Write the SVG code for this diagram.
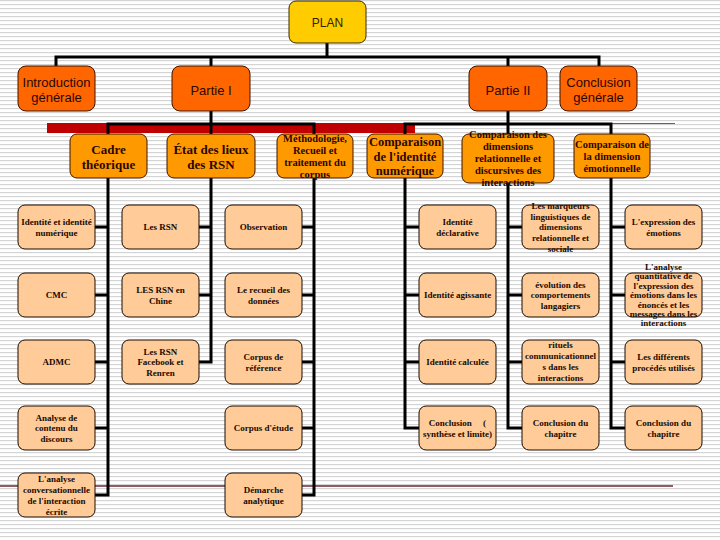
<svg xmlns="http://www.w3.org/2000/svg" width="720" height="540" viewBox="0 0 720 540">
<defs>
<pattern id="stripes" x="0" y="0" width="720" height="4" patternUnits="userSpaceOnUse">
<rect x="0" y="0" width="720" height="1.2" fill="#d4d4d4"/>
</pattern>
<style>
.l0{fill:#FFCC00;stroke:#3d2a00;stroke-width:1}
.l1{fill:#FF6600;stroke:#3d1400;stroke-width:1}
.l2{fill:#FF9900;stroke:#3d1400;stroke-width:1}
.l3{fill:#FFCC99;stroke:#1a0a00;stroke-width:1}
.t0{font-family:"Liberation Sans",Arial,sans-serif;font-size:12px;fill:#332200;text-anchor:middle}
.t1{font-family:"Liberation Sans",Arial,sans-serif;font-size:13px;fill:#2a0800;text-anchor:middle}
.t2{font-family:"Liberation Serif","Times New Roman",serif;font-weight:bold;fill:#2a0800;text-anchor:middle}
.t3{font-family:"Liberation Serif","Times New Roman",serif;font-weight:bold;font-size:9px;fill:#1a0a00;text-anchor:middle}
.c{fill:none;stroke:#000;stroke-width:3;stroke-linejoin:miter;stroke-linecap:square}
</style>
</defs>
<rect x="0" y="0" width="720" height="540" fill="#ffffff"/>
<rect x="0" y="0" width="720" height="540" fill="url(#stripes)"/>
<g id="decor">
<rect x="47" y="123" width="368" height="10" fill="#C00000"/>
<line x1="415" y1="123.5" x2="675" y2="123.5" stroke="#cc3333" stroke-width="1"/>
<line x1="0" y1="486" x2="673" y2="486" stroke="#6e2436" stroke-width="1.5"/>
</g>
<g id="connectors">
<path class="c" d="M327,44 V57 M56,66 V57 H599 V66 M211,57 V66 M508,57 V66"/>
<path class="c" d="M211,111 V124 M108,134 V124 H314 V134 M211,124 V134"/>
<path class="c" d="M508,111 V124 M405,134 V124 H611 V134 M508,124 V134"/>
<path class="c" d="M108,178 V495 H95 M95,227 H108 M95,295 H108 M95,362 H108 M95,428 H108"/>
<path class="c" d="M211,178 V362 H198 M198,227 H211 M198,295 H211"/>
<path class="c" d="M314,178 V495 H301 M301,227 H314 M301,295 H314 M301,362 H314 M301,428 H314"/>
<path class="c" d="M405,178 V428 H419 M405,227 H419 M405,295 H419 M405,362 H419"/>
<path class="c" d="M508,183 V428 H522 M508,227 H522 M508,295 H522 M508,362 H522"/>
<path class="c" d="M611,178 V428 H625 M611,227 H625 M611,295 H625 M611,362 H625"/>
</g>
<g id="plan"><rect class="l0" x="289" y="1" width="77" height="42" rx="7"/><text class="t0" x="327.5" y="27">PLAN</text></g>
<g id="intro"><rect class="l1" x="18" y="66" width="77" height="45" rx="8"/><text class="t1" x="56.5" y="86.6">Introduction<tspan x="56.5" dy="15">générale</tspan></text></g>
<g id="partie1"><rect class="l1" x="172" y="66" width="78" height="45" rx="8"/><text class="t1" x="211" y="94.6">Partie I</text></g>
<g id="partie2"><rect class="l1" x="469" y="66" width="78" height="45" rx="8"/><text class="t1" x="508" y="94.6">Partie II</text></g>
<g id="conclusion"><rect class="l1" x="560" y="66" width="77" height="45" rx="8"/><text class="t1" x="598.5" y="86.6">Conclusion<tspan x="598.5" dy="15">générale</tspan></text></g>
<g id="cadre"><rect class="l2" x="70" y="134" width="77" height="44" rx="7"/><text class="t2" font-size="13" x="108.5" y="153.5">Cadre<tspan x="108.5" dy="15">théorique</tspan></text></g>
<g id="etat"><rect class="l2" x="167" y="134" width="88" height="44" rx="7"/><text class="t2" font-size="13" x="211" y="153.5">État des lieux<tspan x="211" dy="15">des RSN</tspan></text></g>
<g id="methodo"><rect class="l2" x="277" y="134" width="76" height="44" rx="7"/><text class="t2" font-size="10.5" x="315" y="141.7">Méthodologie,<tspan x="315" dy="12">Recueil et</tspan><tspan x="315" dy="12">traitement du</tspan><tspan x="315" dy="12">corpus</tspan></text></g>
<g id="comp-id"><rect class="l2" x="367" y="134" width="76" height="44" rx="7"/><text class="t2" font-size="12.5" x="405" y="146.4">Comparaison<tspan x="405" dy="14.5">de l'identité</tspan><tspan x="405" dy="14.5">numérique</tspan></text></g>
<g id="comp-dim"><rect class="l2" x="462" y="134" width="92" height="49" rx="7"/><text class="t2" font-size="10.5" x="508" y="137.7">Comparaison des<tspan x="508" dy="12">dimensions</tspan><tspan x="508" dy="12">relationnelle et</tspan><tspan x="508" dy="12">discursives des</tspan><tspan x="508" dy="12">interactions</tspan></text></g>
<g id="comp-emo"><rect class="l2" x="574" y="134" width="76" height="44" rx="7"/><text class="t2" font-size="10.5" x="612" y="147.7">Comparaison de<tspan x="612" dy="12">la dimension</tspan><tspan x="612" dy="12">émotionnelle</tspan></text></g>
<g id="a1"><rect class="l3" x="18" y="205" width="77" height="44" rx="7"/><text class="t3" x="56.5" y="225">Identité et identité<tspan x="56.5" dy="10.5">numérique</tspan></text></g>
<g id="a2"><rect class="l3" x="18" y="273" width="77" height="44" rx="7"/><text class="t3" x="56.5" y="298">CMC</text></g>
<g id="a3"><rect class="l3" x="18" y="340" width="77" height="44" rx="7"/><text class="t3" x="56.5" y="365">ADMC</text></g>
<g id="a4"><rect class="l3" x="18" y="406" width="77" height="44" rx="7"/><text class="t3" x="56.5" y="420.7">Analyse de<tspan x="56.5" dy="10.5">contenu du</tspan><tspan x="56.5" dy="10.5">discours</tspan></text></g>
<g id="a5"><rect class="l3" x="18" y="473" width="77" height="44" rx="7"/><text class="t3" x="56.5" y="481.5">L'analyse<tspan x="56.5" dy="11">conversationnelle</tspan><tspan x="56.5" dy="11">de l'interaction</tspan><tspan x="56.5" dy="11">écrite</tspan></text></g>
<g id="b1"><rect class="l3" x="122" y="205" width="77" height="44" rx="7"/><text class="t3" x="160.5" y="230">Les RSN</text></g>
<g id="b2"><rect class="l3" x="122" y="273" width="77" height="44" rx="7"/><text class="t3" x="160.5" y="293">LES RSN en<tspan x="160.5" dy="10.5">Chine</tspan></text></g>
<g id="b3"><rect class="l3" x="122" y="340" width="77" height="44" rx="7"/><text class="t3" x="160.5" y="354.7">Les RSN<tspan x="160.5" dy="10.5">Facebook et</tspan><tspan x="160.5" dy="10.5">Renren</tspan></text></g>
<g id="c1"><rect class="l3" x="225" y="205" width="77" height="44" rx="7"/><text class="t3" x="263.5" y="230">Observation</text></g>
<g id="c2"><rect class="l3" x="225" y="273" width="77" height="44" rx="7"/><text class="t3" x="263.5" y="293">Le recueil des<tspan x="263.5" dy="10.5">données</tspan></text></g>
<g id="c3"><rect class="l3" x="225" y="340" width="77" height="44" rx="7"/><text class="t3" x="263.5" y="360">Corpus de<tspan x="263.5" dy="10.5">référence</tspan></text></g>
<g id="c4"><rect class="l3" x="225" y="406" width="77" height="44" rx="7"/><text class="t3" x="263.5" y="431">Corpus d'étude</text></g>
<g id="c5"><rect class="l3" x="225" y="473" width="77" height="44" rx="7"/><text class="t3" x="263.5" y="493">Démarche<tspan x="263.5" dy="10.5">analytique</tspan></text></g>
<g id="d1"><rect class="l3" x="419" y="205" width="77" height="44" rx="7"/><text class="t3" x="457.5" y="225">Identité<tspan x="457.5" dy="10.5">déclarative</tspan></text></g>
<g id="d2"><rect class="l3" x="419" y="273" width="77" height="44" rx="7"/><text class="t3" x="457.5" y="298">Identité agissante</text></g>
<g id="d3"><rect class="l3" x="419" y="340" width="77" height="44" rx="7"/><text class="t3" x="457.5" y="365">Identité calculée</text></g>
<g id="d4"><rect class="l3" x="419" y="406" width="77" height="44" rx="7"/><text class="t3" x="457.5" y="426" xml:space="preserve">Conclusion     (<tspan x="457.5" dy="10.5">synthèse et limite)</tspan></text></g>
<g id="e1"><rect class="l3" x="522" y="205" width="77" height="44" rx="7"/><text class="t3" x="560.5" y="208.8">Les marqueurs<tspan x="560.5" dy="10.7">linguistiques de</tspan><tspan x="560.5" dy="10.7">dimensions</tspan><tspan x="560.5" dy="10.7">relationnelle et</tspan><tspan x="560.5" dy="10.7">sociale</tspan></text></g>
<g id="e2"><rect class="l3" x="522" y="273" width="77" height="44" rx="7"/><text class="t3" x="560.5" y="287.7">évolution des<tspan x="560.5" dy="10.5">comportements</tspan><tspan x="560.5" dy="10.5">langagiers</tspan></text></g>
<g id="e3"><rect class="l3" x="522" y="340" width="77" height="44" rx="7"/><text class="t3" font-size="8.5" x="560.5" y="348">rituels<tspan x="560.5" dy="11">communicationnel</tspan><tspan x="560.5" dy="11">s dans les</tspan><tspan x="560.5" dy="11">interactions</tspan></text></g>
<g id="e4"><rect class="l3" x="522" y="406" width="77" height="44" rx="7"/><text class="t3" x="560.5" y="426">Conclusion du<tspan x="560.5" dy="10.5">chapitre</tspan></text></g>
<g id="f1"><rect class="l3" x="625" y="205" width="77" height="44" rx="7"/><text class="t3" x="663.5" y="225">L'expression des<tspan x="663.5" dy="10.5">émotions</tspan></text></g>
<g id="f2"><rect class="l3" x="625" y="273" width="77" height="44" rx="7"/><text class="t3" font-size="8" x="663.5" y="270">L'analyse<tspan x="663.5" dy="9.4">quantitative de</tspan><tspan x="663.5" dy="9.4">l'expression des</tspan><tspan x="663.5" dy="9.4">émotions dans les</tspan><tspan x="663.5" dy="9.4">énoncés et les</tspan><tspan x="663.5" dy="9.4">messages dans les</tspan><tspan x="663.5" dy="9.4">interactions</tspan></text></g>
<g id="f3"><rect class="l3" x="625" y="340" width="77" height="44" rx="7"/><text class="t3" x="663.5" y="360">Les différents<tspan x="663.5" dy="10.5">procédés utilisés</tspan></text></g>
<g id="f4"><rect class="l3" x="625" y="406" width="77" height="44" rx="7"/><text class="t3" x="663.5" y="426">Conclusion du<tspan x="663.5" dy="10.5">chapitre</tspan></text></g>
</svg>
